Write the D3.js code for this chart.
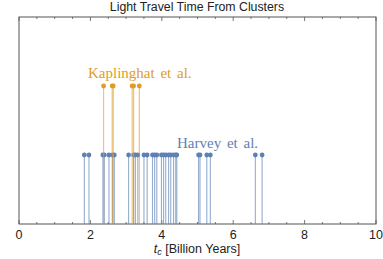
<!DOCTYPE html>
<html><head><meta charset="utf-8">
<script src="https://cdn.jsdelivr.net/npm/d3@7"></script>
<style>body{margin:0;background:#fff}svg{display:block}</style>
</head><body>
<svg id="c" width="383" height="259"></svg>
<script>
const harvey = [1.83,1.96,2.35,2.39,2.52,2.62,2.67,3.07,3.21,3.26,3.33,3.50,3.59,3.74,3.80,3.86,3.99,4.05,4.11,4.19,4.25,4.33,4.39,4.42,5.03,5.07,5.26,5.36,6.62,6.81];
const kaplinghat = [2.37,2.61,2.64,3.17,3.21,3.37];
const harveyLevel = 1, kapLevel = 2;
const xTicks = [0,2,4,6,8,10];
const title = "Light Travel Time From Clusters";

const svg = d3.select("#c");
const L=19, R=376, T=17, B=224;
const x = d3.scaleLinear().domain([0,10]).range([L,R]);
const y = d3.scaleLinear().domain([0,3]).range([B,T]);
const blue="#5E81B5", orange="#E09C24";

svg.append("rect").attr("x",L).attr("y",T).attr("width",R-L).attr("height",B-T)
  .attr("fill","none").attr("stroke","#555").attr("stroke-width",1);

const minor = d3.range(0,10.01,0.5);
const g = svg.append("g").attr("stroke","#555").attr("stroke-width",0.8);
minor.forEach(v=>{
  const major = Math.abs(v/2-Math.round(v/2))<1e-6;
  const len = major?4:2;
  g.append("line").attr("x1",x(v)).attr("x2",x(v)).attr("y1",B).attr("y2",B-len);
  g.append("line").attr("x1",x(v)).attr("x2",x(v)).attr("y1",T).attr("y2",T+len);
});
svg.append("g").selectAll("text").data(xTicks).join("text")
  .attr("x",d=>x(d)).attr("y",239).attr("text-anchor","middle")
  .attr("font-family","Liberation Sans, Arial, sans-serif").attr("font-size",12.5).attr("fill","#222")
  .text(d=>d);

function stems(data, level, color){
  const gg = svg.append("g");
  gg.selectAll("line").data(data).join("line")
    .attr("x1",d=>x(d)).attr("x2",d=>x(d)).attr("y1",y(0)).attr("y2",y(level))
    .attr("stroke",color).attr("stroke-width",1.1).attr("stroke-opacity",0.65);
  gg.selectAll("circle").data(data).join("circle")
    .attr("cx",d=>x(d)).attr("cy",y(level)).attr("r",2.4).attr("fill",color);
}
stems(harvey, harveyLevel, blue);
stems(kaplinghat, kapLevel, orange);

svg.append("text").attr("x",88).attr("y",78).attr("font-family","Liberation Serif, Times New Roman, serif")
  .attr("font-size",15).attr("fill",orange).attr("word-spacing",2).text("Kaplinghat et al.");
svg.append("text").attr("x",177).attr("y",148).attr("font-family","Liberation Serif, Times New Roman, serif")
  .attr("font-size",15).attr("fill",blue).attr("word-spacing",2).text("Harvey et al.");

svg.append("text").attr("x",197).attr("y",11).attr("text-anchor","middle")
  .attr("font-family","Liberation Sans, Arial, sans-serif").attr("font-size",12.3).attr("fill","#222").text(title);

const xl = svg.append("text").attr("x",197).attr("y",253).attr("text-anchor","middle")
  .attr("font-family","Liberation Sans, Arial, sans-serif").attr("font-size",12.5).attr("fill","#222");
xl.append("tspan").attr("font-style","italic").text("t");
xl.append("tspan").attr("font-style","italic").attr("font-size",9).attr("dy",2).text("c");
xl.append("tspan").attr("dy",-2).text(" [Billion Years]");
</script>
</body></html>
